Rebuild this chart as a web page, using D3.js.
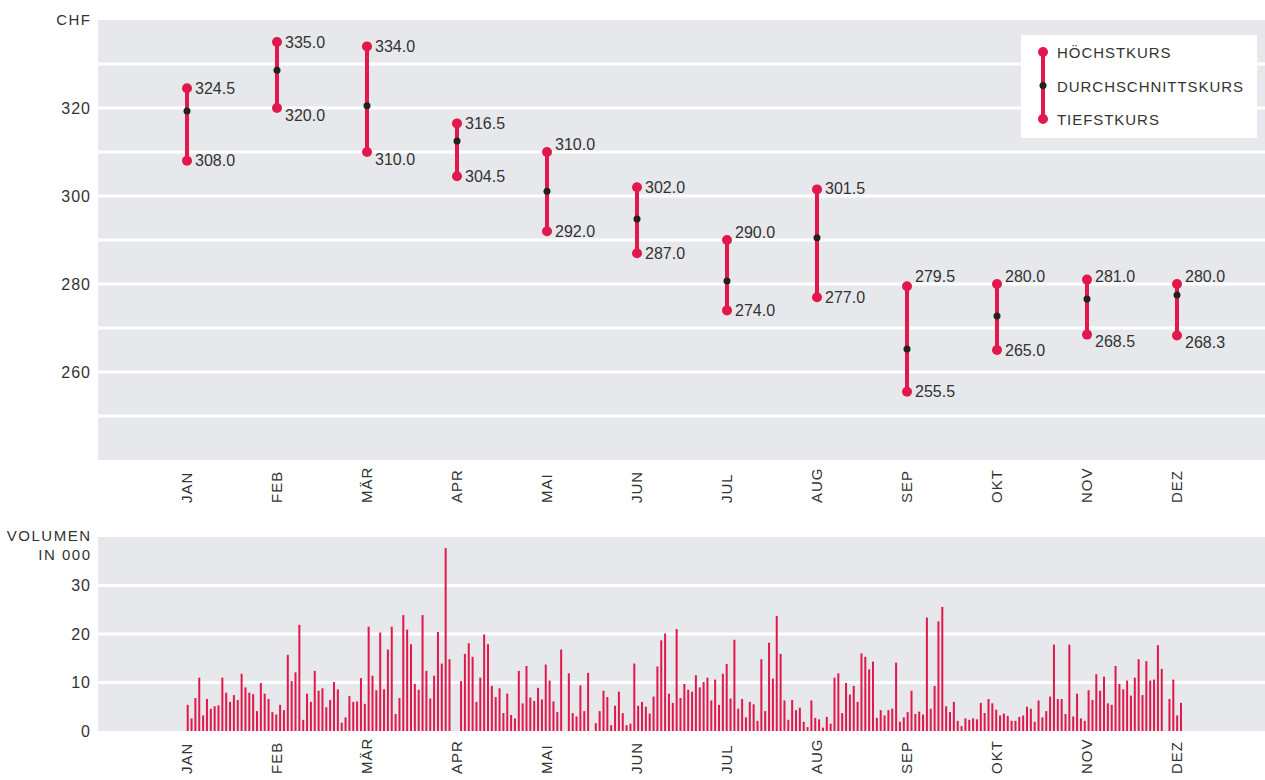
<!DOCTYPE html>
<html><head><meta charset="utf-8">
<script src="https://cdn.jsdelivr.net/npm/d3@7"></script>
<style>
body{margin:0;background:#fff}
text{font-family:"Liberation Sans",Arial,sans-serif;fill:#333}
</style>
</head><body>
<svg id="c" width="1265" height="780"></svg>
<script>
const months = ["JAN","FEB","MÄR","APR","MAI","JUN","JUL","AUG","SEP","OKT","NOV","DEZ"];
const highs = [324.5,335.0,334.0,316.5,310.0,302.0,290.0,301.5,279.5,280.0,281.0,280.0];
const lows  = [308.0,320.0,310.0,304.5,292.0,287.0,274.0,277.0,255.5,265.0,268.5,268.3];
const avgs  = [319.3,328.6,320.5,312.5,301.1,294.8,280.7,290.5,265.2,272.7,276.6,277.5];
const priceTicks = [260,280,300,320];
const volumeTicks = [0,10,20,30];
const legendItems = ["HÖCHSTKURS","DURCHSCHNITTSKURS","TIEFSTKURS"];
const dailyVolume = [
5.4,2.6,6.8,11.0,3.2,6.6,4.6,5.1,5.3,11.0,7.9,6.0,7.4,6.4,11.8,9.0,7.9,7.6,4.1,9.9,
7.7,6.6,3.9,3.4,5.4,4.3,15.7,10.3,12.1,21.9,2.3,7.7,6.0,12.4,8.3,8.8,4.9,6.4,10.1,8.6,
1.7,2.8,7.2,6.0,6.1,10.9,5.6,21.5,11.4,8.4,20.3,8.6,16.8,21.5,3.5,6.8,23.9,20.9,17.9,9.7,
8.5,23.9,12.4,6.7,11.4,20.4,13.9,37.7,14.8,null,null,10.3,15.9,18.1,15.3,6.0,11.0,19.9,17.9,9.3,
7.0,8.8,3.7,7.7,3.3,2.6,12.4,5.7,13.4,6.9,6.2,8.9,6.5,13.7,10.4,6.1,3.9,16.8,null,11.9,
3.7,3.0,9.4,4.1,12.0,null,1.6,4.1,8.3,7.0,1.2,5.2,8.1,3.7,1.2,1.5,13.9,5.2,6.0,5.0,
3.6,7.1,13.3,18.7,20.1,7.7,5.8,21.0,6.8,9.7,8.5,8.1,11.5,9.0,10.1,11.0,6.3,10.6,5.4,11.8,
13.8,6.7,18.8,4.6,6.6,2.8,6.0,5.5,2.1,14.8,4.1,18.2,10.8,23.7,15.9,6.3,2.3,6.4,4.3,4.8,
1.9,0.8,6.3,2.7,2.4,0.7,2.9,1.5,11.0,11.9,3.7,9.9,7.5,9.3,6.0,16.0,15.3,12.7,14.3,2.7,
4.3,3.2,4.3,4.6,14.1,1.9,2.8,3.9,8.3,3.5,4.0,3.4,23.4,4.6,9.3,22.6,25.6,5.1,3.9,6.0,
2.1,1.0,2.6,2.3,2.6,2.4,5.8,3.7,6.6,5.7,4.4,3.2,3.6,3.1,2.1,2.1,2.9,3.2,5.0,4.6,
1.9,6.3,2.8,4.1,7.1,17.8,6.6,6.6,3.5,17.8,3.0,7.7,2.6,2.1,8.4,6.4,11.7,8.3,11.2,5.7,
5.4,13.4,9.7,8.6,10.4,7.3,11.0,14.8,7.4,14.4,10.4,10.6,17.7,12.8,null,6.6,10.6,3.2,5.8
];

const red = "#e2184c", bgc = "#e6e8eb", dark = "#222";
const svg = d3.select("#c");
const L = 98, R = 1265;

// ---------- price chart ----------
const x = d3.scalePoint().domain(months).range([97, 1267]).padding(1);
const y = d3.scaleLinear().domain([240, 340]).range([460, 20]);
const gridVals = y.ticks(10).filter(v => v > 240 && v < 340);

svg.append("rect").attr("x", L).attr("y", y(340)).attr("width", R - L).attr("height", y(240) - y(340)).attr("fill", bgc);
svg.selectAll(".g1").data(gridVals).enter().append("line")
  .attr("x1", L).attr("x2", R).attr("y1", d => y(d)).attr("y2", d => y(d))
  .attr("stroke", "#fff").attr("stroke-width", 3);

svg.selectAll(".yt").data(priceTicks).enter().append("text")
  .attr("x", 91).attr("y", d => y(d)).attr("dy", "0.35em").attr("text-anchor", "end")
  .style("font-size", "16px").style("letter-spacing", "1px").text(d => d);
svg.append("text").attr("x", 91.5).attr("y", 19.5).attr("dy", "0.35em").attr("text-anchor", "end")
  .style("font-size", "15px").style("letter-spacing", "1.5px").text("CHF");

const data = months.map((m, i) => ({m, h: highs[i], l: lows[i], a: avgs[i]}));
const g = svg.append("g");
g.selectAll(".rl").data(data).enter().append("line")
  .attr("x1", d => x(d.m)).attr("x2", d => x(d.m)).attr("y1", d => y(d.h)).attr("y2", d => y(d.l))
  .attr("stroke", red).attr("stroke-width", 4);
g.selectAll(".hc").data(data).enter().append("circle")
  .attr("cx", d => x(d.m)).attr("cy", d => y(d.h)).attr("r", 5).attr("fill", red);
g.selectAll(".lc").data(data).enter().append("circle")
  .attr("cx", d => x(d.m)).attr("cy", d => y(d.l)).attr("r", 5).attr("fill", red);
g.selectAll(".ac").data(data).enter().append("circle")
  .attr("cx", d => x(d.m)).attr("cy", d => y(d.a)).attr("r", 3.5).attr("fill", dark);

function nearestGrid(v){ return gridVals.reduce((b, c) => Math.abs(y(c) - y(v)) < Math.abs(y(b) - y(v)) ? c : b); }
function highY(v){ const gv = nearestGrid(v); const d = Math.abs(y(gv) - y(v)); return d < 7.5 ? y(gv) - 8 : y(v); }
function lowY(v){ const gv = nearestGrid(v); const d = Math.abs(y(gv) - y(v)); return d < 8 ? y(v) + 7 : y(v); }
const fmt = d3.format(".1f");
g.selectAll(".hl").data(data).enter().append("text")
  .attr("x", d => x(d.m) + 8).attr("y", d => highY(d.h)).attr("dy", "0.35em")
  .style("font-size", "16px").text(d => fmt(d.h));
g.selectAll(".ll").data(data).enter().append("text")
  .attr("x", d => x(d.m) + 8).attr("y", d => lowY(d.l)).attr("dy", "0.35em")
  .style("font-size", "16px").text(d => fmt(d.l));

svg.selectAll(".mx").data(months).enter().append("text")
  .attr("transform", d => `translate(${x(d)},503) rotate(-90)`).attr("dy", "0.35em")
  .attr("text-anchor", "start").style("font-size", "15px").style("letter-spacing", "1px").text(d => d);

// legend
const lg = svg.append("g");
lg.append("rect").attr("x", 1021).attr("y", 35).attr("width", 236).attr("height", 103).attr("fill", "#fff");
const ly = d3.scalePoint().domain(legendItems).range([52, 119]);
lg.append("line").attr("x1", 1043).attr("x2", 1043).attr("y1", ly(legendItems[0])).attr("y2", ly(legendItems[2]))
  .attr("stroke", red).attr("stroke-width", 4);
lg.selectAll("circle").data(legendItems).enter().append("circle")
  .attr("cx", 1043).attr("cy", d => ly(d)).attr("r", (d, i) => i === 1 ? 3.5 : 5)
  .attr("fill", (d, i) => i === 1 ? dark : red);
lg.selectAll("text").data(legendItems).enter().append("text")
  .attr("x", 1057).attr("y", d => ly(d) + 1).attr("dy", "0.35em")
  .style("font-size", "15px").style("letter-spacing", "0.95px").text(d => d);

// ---------- volume chart ----------
const yv = d3.scaleLinear().domain([0, 40]).range([731, 537]);
const xv = d3.scaleLinear().domain([0, dailyVolume.length - 1]).range([x(months[0]) + 0.7, x(months[11]) + 4]);
svg.append("rect").attr("x", L).attr("y", yv(40)).attr("width", R - L).attr("height", yv(0) - yv(40)).attr("fill", bgc);
svg.selectAll(".g2").data(volumeTicks.filter(v => v > 0)).enter().append("line")
  .attr("x1", L).attr("x2", R).attr("y1", d => yv(d)).attr("y2", d => yv(d))
  .attr("stroke", "#fff").attr("stroke-width", 3);
svg.selectAll(".vt").data(volumeTicks).enter().append("text")
  .attr("x", 91).attr("y", d => yv(d)).attr("dy", "0.35em").attr("text-anchor", "end")
  .style("font-size", "16px").style("letter-spacing", "1px").text(d => d);
svg.append("text").attr("x", 91.5).attr("y", 535.5).attr("dy", "0.35em").attr("text-anchor", "end")
  .style("font-size", "15px").style("letter-spacing", "1.5px").text("VOLUMEN");
svg.append("text").attr("x", 91.5).attr("y", 555).attr("dy", "0.35em").attr("text-anchor", "end")
  .style("font-size", "15px").style("letter-spacing", "1.5px").text("IN 000");

const vd = dailyVolume.map((v, i) => ({i, v})).filter(d => d.v !== null);
svg.selectAll(".vb").data(vd).enter().append("rect")
  .attr("x", d => xv(d.i) - 1).attr("width", 2)
  .attr("y", d => yv(d.v)).attr("height", d => yv(0) - yv(d.v)).attr("fill", red);

svg.selectAll(".mx2").data(months).enter().append("text")
  .attr("transform", d => `translate(${x(d)},774) rotate(-90)`).attr("dy", "0.35em")
  .attr("text-anchor", "start").style("font-size", "15px").style("letter-spacing", "1px").text(d => d);
</script>
</body></html>
